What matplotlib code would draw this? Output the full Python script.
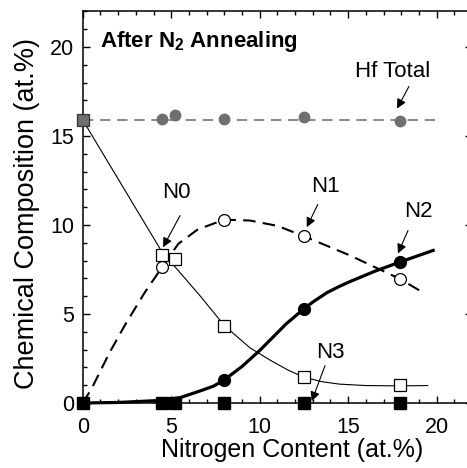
import matplotlib
matplotlib.use('Agg')
import matplotlib.pyplot as plt

plt.rcParams['font.family'] = ['Liberation Sans', 'DejaVu Sans']
plt.rcParams['mathtext.fontset'] = 'custom'
plt.rcParams['mathtext.rm'] = 'Liberation Sans'
plt.rcParams['mathtext.bf'] = 'Liberation Sans:bold'

# measured points
x_meas = [0, 4.5, 5.2, 8.0, 12.5, 17.9]
hf_total = [15.9, 15.95, 16.2, 15.95, 16.05, 15.85]
n0 = [15.9, 8.3, 8.1, 4.35, 1.45, 1.0]
n1_x = [4.5, 8.0, 12.5, 17.9]
n1 = [7.65, 10.3, 9.37, 6.98]
n2_x = [8.0, 12.5, 17.9]
n2 = [1.3, 5.29, 7.91]
n3 = [0, 0, 0, 0, 0, 0]

# guide curves
hf_line_x = [0, 20]
hf_line_y = [15.9, 15.9]
n0_curve_x = [0, 4.5, 5.4, 6.7, 8.0, 9.45, 10.6, 11.6, 12.5, 13.5, 14.5, 16.0, 17.9, 19.5]
n0_curve_y = [15.9, 8.45, 7.44, 5.94, 4.35, 3.1, 2.4, 1.85, 1.45, 1.2, 1.06, 0.98, 0.96, 0.98]
n1_curve_x = [0, 0.5, 1.5, 2.4, 3.5, 4.5, 5.4, 6.5, 8.0, 9.45, 11.0, 12.5, 15.1, 17.9, 19.1]
n1_curve_y = [0, 0.8, 2.8, 4.4, 6.2, 7.65, 8.94, 9.75, 10.3, 10.25, 9.95, 9.37, 8.29, 6.98, 6.28]
n2_curve_x = [0, 2, 4.3, 5.5, 6.7, 7.4, 8.0, 9.0, 9.5, 10.0, 10.6, 11.5, 12.5, 13.0, 13.8, 14.5, 15.1, 16.5, 17.9, 19.8]
n2_curve_y = [0, 0.03, 0.14, 0.3, 0.7, 0.95, 1.3, 2.05, 2.5, 2.95, 3.55, 4.45, 5.29, 5.67, 6.2, 6.55, 6.82, 7.4, 7.91, 8.57]

fig = plt.figure(figsize=(4.67, 4.68), dpi=100)
ax = fig.add_axes([0.1771, 0.1389, 0.8338, 0.8368])

gray = '#6f6f6f'
ax.plot(hf_line_x, hf_line_y, color='#8c8c8c', lw=1.5, dashes=(5, 3.2), zorder=2)
ax.plot(x_meas[1:], hf_total[1:], 'o', color=gray, ms=7.5, zorder=3, clip_on=False)

ax.plot(n0_curve_x, n0_curve_y, color='k', lw=0.8, zorder=2)
ax.plot(n1_curve_x, n1_curve_y, color='k', lw=1.5, dashes=(6, 3.5), zorder=2)
ax.plot(n2_curve_x, n2_curve_y, color='k', lw=2.3, zorder=2, clip_on=False)

ax.plot(x_meas[1:], n0[1:], 's', mfc='white', mec='k', mew=0.9, ms=8.5, zorder=4)
ax.plot(x_meas[:1], n0[:1], 's', mfc=gray, mec='#333333', mew=0.9, ms=8.5, zorder=4, clip_on=False)
ax.plot(n1_x, n1, 'o', mfc='white', mec='k', mew=0.9, ms=8.5, zorder=4)
ax.plot(n2_x, n2, 'o', color='k', ms=8.5, zorder=4)
ax.plot(x_meas, n3, 's', color='k', ms=8.5, zorder=5, clip_on=False)

ax.set_xlim(0, 22)
ax.set_ylim(0, 22)
ax.set_xticks([0, 5, 10, 15, 20])
ax.set_yticks([0, 5, 10, 15, 20])
ax.set_xticks(range(0, 23), minor=True)
ax.set_yticks(range(0, 23), minor=True)
ax.tick_params(which='both', direction='in', top=True, right=True, width=1.0)
ax.tick_params(which='major', length=5, labelsize=15.5)
ax.tick_params(which='minor', length=3)
ax.tick_params(axis='x', pad=10)
ax.tick_params(axis='y', pad=6)
for s in ax.spines.values():
    s.set_linewidth(1.1)

ax.set_xlabel('Nitrogen Content (at.%)', fontsize=18)
ax.xaxis.set_label_coords(0.537, -0.089)
ax.set_ylabel('Chemical Composition (at.%)', fontsize=19.5)
ax.yaxis.set_label_coords(-0.11, 0.484)

ax.text(0.98, 20.3, r'After N$_\mathbf{2}$ Annealing', fontsize=16, fontweight='bold', va='center', ha='left')

arrow = dict(arrowstyle='-|>', lw=0.8, color='k', mutation_scale=14, shrinkA=0, shrinkB=0)
ax.annotate('', xy=(17.76, 16.54), xytext=(18.43, 17.78), arrowprops=arrow)
ax.text(17.5, 18.6, 'Hf Total', fontsize=16, ha='center', va='center')
ax.annotate('', xy=(4.54, 8.75), xytext=(5.5, 10.53), arrowprops=arrow)
ax.text(5.31, 11.84, 'N0', fontsize=16, ha='center', va='center')
ax.annotate('', xy=(12.66, 9.88), xytext=(13.28, 11.15), arrowprops=arrow)
ax.text(13.73, 12.18, 'N1', fontsize=16, ha='center', va='center')
ax.annotate('', xy=(17.81, 8.4), xytext=(18.38, 9.69), arrowprops=arrow)
ax.text(18.94, 10.76, 'N2', fontsize=16, ha='center', va='center')
ax.annotate('', xy=(12.94, 0.1), xytext=(13.69, 2.1), arrowprops=arrow)
ax.text(13.97, 2.85, 'N3', fontsize=16, ha='center', va='center')

fig.savefig('out.png', dpi=100)
